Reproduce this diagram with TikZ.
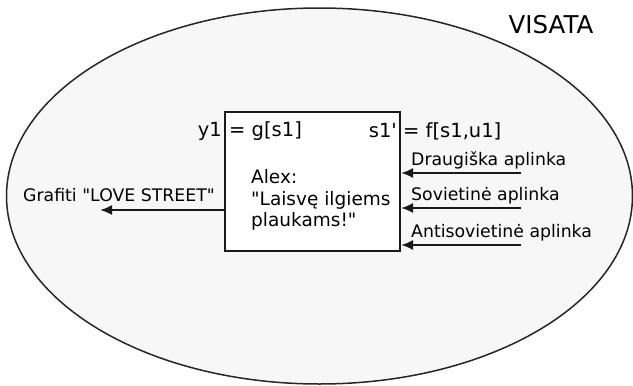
\documentclass[tikz,border=0pt]{standalone}
\usepackage{fontspec}
\setmainfont{DejaVu Sans}
\usetikzlibrary{arrows.meta}

\tikzset{
    universe/.style={draw=black!85, line width=1.5pt, fill=black!3},
    agentbox/.style={draw=black!90, line width=2pt, fill=white, inner sep=0pt,
        minimum width=175pt, minimum height=139pt},
    lbl/.style={inner sep=0pt, font=\fontsize{17.3}{21}\selectfont},
    eqlbl/.style={inner sep=0pt, font=\fontsize{19.5}{22}\selectfont},
    flow/.style={draw=black!90, line width=2pt, -{Latex[length=12pt,width=10pt]}}
}

\begin{document}
\begin{tikzpicture}[x=1pt,y=-1pt]

        \useasboundingbox (0,0) rectangle (633,386);

        % Visata
        \draw[universe] (319.5,196) ellipse [x radius=313, y radius=188];
        \node[inner sep=0pt, font=\fontsize{24.5}{28}\selectfont] (visata) at (551,25) {VISATA};

        % Alex
        \node[agentbox] (agent) at (312.5,181) {};
        \node[lbl, anchor=west, align=left, font=\fontsize{18.5}{21.5}\selectfont]
            (alex) at (251,200) {Alex:\\\textquotedbl Laisvę ilgiems\\plaukams!\textquotedbl};

        % Equations
        \node[eqlbl, anchor=east] (y1) at (222,131) {y1};
        \node[eqlbl, anchor=west] (geq) at (229,131) {= g[s1]};
        \node[eqlbl, anchor=east] (s1) at (397,131) {s1\textquotesingle};
        \node[eqlbl, anchor=west] (feq) at (403,131) {= f[s1,u1]};

        % Inputs
        \coordinate (in1) at (521,173);
        \coordinate (in2) at (521,208);
        \coordinate (in3) at (521,245);
        \node[lbl, anchor=west] (draug) at (411,160) {Draugiška aplinka};
        \node[lbl, anchor=west] (sov) at (411,196) {Sovietinė aplinka};
        \node[lbl, anchor=west] (antisov) at (411,233) {Antisovietinė aplinka};
        \draw[flow] (in1) -- (agent.east |- in1);
        \draw[flow] (in2) -- (agent.east |- in2);
        \draw[flow] (in3) -- (agent.east |- in3);

        % Output
        \coordinate (out) at (100,210);
        \node[lbl, anchor=east] (grafiti) at (215,195) {Grafiti \textquotedbl LOVE STREET\textquotedbl};
        \draw[flow] (agent.west |- out) -- (out);

    \end{tikzpicture}
\end{document}
